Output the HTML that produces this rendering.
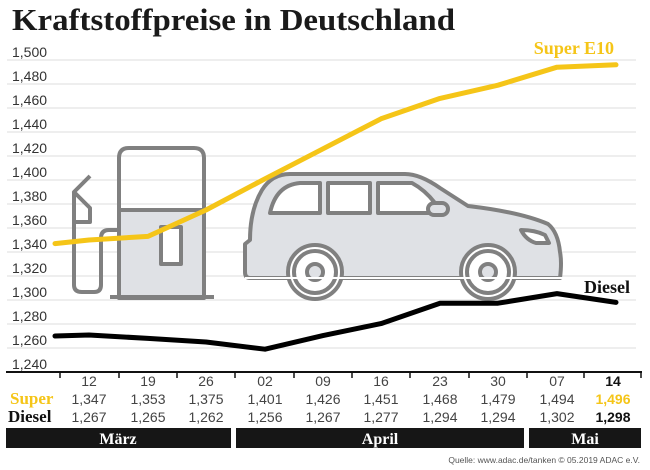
<!DOCTYPE html>
<html><head><meta charset="utf-8"><style>
html,body{margin:0;padding:0;background:#fff;}
svg{display:block;}
</style></head><body>
<svg width="650" height="470" viewBox="0 0 650 470" xmlns="http://www.w3.org/2000/svg" font-family="Liberation Sans, sans-serif">
<text x="12" y="30" font-family="Liberation Serif, serif" font-weight="bold" font-size="31" fill="#1a1a1a" textLength="443" lengthAdjust="spacingAndGlyphs">Kraftstoffpreise in Deutschland</text>
<g stroke="#dcdcdc" stroke-width="1">
<line x1="7" x2="636" y1="60" y2="60"/><line x1="7" x2="636" y1="84" y2="84"/><line x1="7" x2="636" y1="108" y2="108"/><line x1="7" x2="636" y1="132" y2="132"/><line x1="7" x2="636" y1="156" y2="156"/><line x1="7" x2="636" y1="180" y2="180"/><line x1="7" x2="636" y1="204" y2="204"/><line x1="7" x2="636" y1="228" y2="228"/><line x1="7" x2="636" y1="252" y2="252"/><line x1="7" x2="636" y1="276" y2="276"/><line x1="7" x2="636" y1="300" y2="300"/><line x1="7" x2="636" y1="324" y2="324"/><line x1="7" x2="636" y1="348" y2="348"/>
</g>
<g font-size="14" fill="#333">
<text x="12" y="57">1,500</text><text x="12" y="81">1,480</text><text x="12" y="105">1,460</text><text x="12" y="129">1,440</text><text x="12" y="153">1,420</text><text x="12" y="177">1,400</text><text x="12" y="201">1,380</text><text x="12" y="225">1,360</text><text x="12" y="249">1,340</text><text x="12" y="273">1,320</text><text x="12" y="297">1,300</text><text x="12" y="321">1,280</text><text x="12" y="345">1,260</text><text x="12" y="369">1,240</text>
</g>
<g stroke="#808080" stroke-width="4" fill="none" stroke-linejoin="round">
<path d="M119,298 V210 H204 V298 Z" fill="#dfe1e5"/>
<path d="M119,210 V158 Q119,148 129,148 H194 Q204,148 204,158 V210"/>
<line x1="110" y1="297" x2="214" y2="297"/>
<rect x="161" y="227" width="20" height="37" fill="#fff"/>
<path d="M119,230 H109 Q101,230 101,238 V285 Q101,292 94,292 H82 Q74,292 74,285 V192"/>
<path d="M90,176 L74,192 L90,208 V222 H74"/>
</g>
<g stroke="#808080" stroke-width="4" stroke-linejoin="round">
<path d="M254,278 H250 Q245,278 245,272 V244 L250,240 Q250,210 262,190 Q272,174 290,174 H405 Q420,174 440,188 L468,206 Q520,212 548,224 Q558,232 560,252 Q562,262 560,278 Z" fill="#dfe1e5"/>
<circle cx="315" cy="272" r="27" fill="#fff"/>
<circle cx="315" cy="272" r="21" fill="#fff"/>
<circle cx="315" cy="272" r="8" fill="#dfe1e5"/>
<circle cx="488" cy="272" r="27" fill="#fff"/>
<circle cx="488" cy="272" r="21" fill="#fff"/>
<circle cx="488" cy="272" r="8" fill="#dfe1e5"/>
<path d="M270,213 Q276,185 300,183 H320 V213 Z" fill="#fff"/>
<rect x="328" y="183" width="42" height="30" fill="#fff"/>
<path d="M378,183 H412 Q425,190 435,203 V213 H378 Z" fill="#fff"/>
<rect x="428" y="203" width="20" height="12" rx="6" fill="#dfe1e5"/>
<path d="M521,230 Q535,230 545,235 L549,243 H536 Q526,240 521,230 Z" fill="#fff"/>
</g>
<rect x="245" y="277" width="318" height="2" fill="#fff"/>
<polyline fill="none" stroke="#f5c518" stroke-width="5" stroke-linecap="round" stroke-linejoin="round" points="55,243.6 89,240 148,236.4 206,210 265,178.8 323,148.8 381,118.8 440,98.4 498,85.2 557,67.2 616,64.8"/>
<polyline fill="none" stroke="#000" stroke-width="5" stroke-linecap="round" stroke-linejoin="round" points="55,336 89,335 148,338.4 206,342 265,349.2 323,335.6 381,323.6 440,303.2 498,303.2 557,293.6 616,302.4"/>
<text x="614" y="54" text-anchor="end" font-family="Liberation Serif, serif" font-weight="bold" font-size="18" fill="#f5c518">Super E10</text>
<text x="630" y="293" text-anchor="end" font-family="Liberation Serif, serif" font-weight="bold" font-size="18" fill="#111">Diesel</text>
<line x1="6" x2="642" y1="372" y2="372" stroke="#111" stroke-width="2"/>
<g stroke="#111" stroke-width="1.5">
<line x1="60" x2="60" y1="372" y2="378"/><line x1="119" x2="119" y1="372" y2="378"/><line x1="177" x2="177" y1="372" y2="378"/><line x1="235" x2="235" y1="372" y2="378"/><line x1="294" x2="294" y1="372" y2="378"/><line x1="352" x2="352" y1="372" y2="378"/><line x1="410" x2="410" y1="372" y2="378"/><line x1="469" x2="469" y1="372" y2="378"/><line x1="527" x2="527" y1="372" y2="378"/><line x1="584" x2="584" y1="372" y2="378"/><line x1="641" x2="641" y1="372" y2="378"/>
</g>
<g font-size="14" fill="#444" text-anchor="middle">
<text x="89" y="386">12</text><text x="148" y="386">19</text><text x="206" y="386">26</text><text x="265" y="386">02</text><text x="323" y="386">09</text><text x="381" y="386">16</text><text x="440" y="386">23</text><text x="498" y="386">30</text><text x="557" y="386">07</text><text x="613" y="386" font-weight="bold" fill="#111">14</text>
<text x="89" y="404">1,347</text><text x="148" y="404">1,353</text><text x="206" y="404">1,375</text><text x="265" y="404">1,401</text><text x="323" y="404">1,426</text><text x="381" y="404">1,451</text><text x="440" y="404">1,468</text><text x="498" y="404">1,479</text><text x="557" y="404">1,494</text><text x="613" y="404" font-weight="bold" fill="#f5c518">1,496</text>
<text x="89" y="422">1,267</text><text x="148" y="422">1,265</text><text x="206" y="422">1,262</text><text x="265" y="422">1,256</text><text x="323" y="422">1,267</text><text x="381" y="422">1,277</text><text x="440" y="422">1,294</text><text x="498" y="422">1,294</text><text x="557" y="422">1,302</text><text x="613" y="422" font-weight="bold" fill="#111">1,298</text>
</g>
<text x="10" y="404" font-family="Liberation Serif, serif" font-weight="bold" font-size="17" fill="#f5c518">Super</text>
<text x="8" y="422" font-family="Liberation Serif, serif" font-weight="bold" font-size="17" fill="#111">Diesel</text>
<rect x="6" y="428" width="225" height="20" fill="#161616"/>
<rect x="236" y="428" width="288" height="20" fill="#161616"/>
<rect x="529" y="428" width="112" height="20" fill="#161616"/>
<g font-family="Liberation Serif, serif" font-weight="bold" font-size="16" fill="#fff" text-anchor="middle">
<text x="118" y="444">März</text><text x="380" y="444">April</text><text x="585" y="444">Mai</text>
</g>
<text x="640" y="463" text-anchor="end" font-size="8.5" fill="#555">Quelle: www.adac.de/tanken   © 05.2019  ADAC e.V.</text>
</svg>
</body></html>
